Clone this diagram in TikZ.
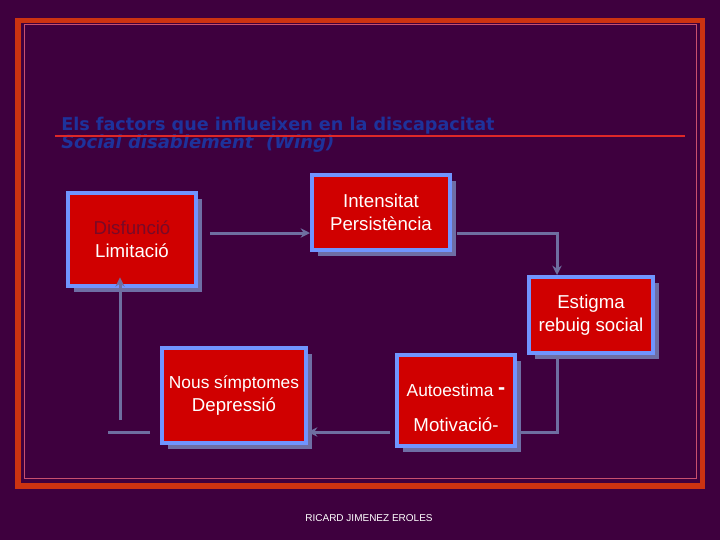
\documentclass[tikz,border=0pt]{standalone}
\usepackage{fontspec}
\setmainfont{Liberation Sans}
\newfontfamily\titlefont{DejaVu Sans}
\usetikzlibrary{arrows.meta,shadows}
\definecolor{bgc}{RGB}{62,0,62}
\definecolor{framec}{RGB}{204,51,17}
\definecolor{thinc}{RGB}{200,80,110}
\definecolor{titlec}{RGB}{30,50,155}
\definecolor{rulec}{RGB}{222,40,40}
\definecolor{boxred}{RGB}{208,0,0}
\definecolor{boxblue}{RGB}{112,148,255}
\definecolor{shadowc}{RGB}{110,110,165}
\definecolor{connc}{RGB}{110,110,160}
\definecolor{darktxt}{RGB}{120,10,40}
\begin{document}
\begin{tikzpicture}[x=0.75pt,y=-0.75pt,
  box/.style={fill=boxred, draw=boxblue, line width=3pt, inner sep=0pt,
    align=center, text=white, font=\fontsize{14}{17.5}\selectfont,
    drop shadow={shadow xshift=4.5pt, shadow yshift=-4.5pt, fill=shadowc, opacity=1}},
  conn/.style={draw=connc, line width=2.25pt},
  arr/.style={-{Stealth[length=7pt,width=7pt]}}]
\fill[bgc] (0,0) rectangle (720,540);
\useasboundingbox (0,0) rectangle (720,540);
% frame
\draw[framec, line width=4.1pt] (18,20.5) rectangle (702.5,486);
\draw[thinc, line width=0.7pt] (24,24.5) rectangle (696,478);
% title
\node[anchor=base west, inner sep=0pt, text=titlec, font=\titlefont\bfseries\fontsize{13.2}{16}\selectfont] (t1) at (61,130) {Els factors que influeixen en la discapacitat};
\node[anchor=base west, inner sep=0pt, text=titlec, font=\titlefont\bfseries\itshape\fontsize{13.5}{16}\selectfont] (t2) at (61,148) {Social disablement\ \ (Wing)};
\draw[rulec, line width=1.5pt] (55,136) -- (685,136);
% boxes
\node[box, minimum width=96pt, minimum height=69.75pt] (b1) at (132,239.5) {{\color{darktxt}Disfunció}\\Limitació};
\node[box, minimum width=103.5pt, minimum height=56.25pt] (b2) at (381,212.5) {Intensitat\\Persistència};
\node[box, minimum width=93pt, minimum height=57pt] (b3) at (591,315) {Estigma\\rebuig social};
\node[box, minimum width=108pt, minimum height=71.25pt] (b4) at (234,395.5) {{\fontsize{13}{14}\selectfont Nous símptomes}\\Depressió};
\node[box, minimum width=88.5pt, minimum height=68.25pt] (b5) at (456,400.5) {\rule{0pt}{20pt}{\fontsize{13}{14}\selectfont Autoestima \raisebox{1pt}{\fontsize{16}{16}\selectfont\bfseries -}}\\[9pt]Motivació-};
% connector points
\coordinate (k1) at (557,233);
\coordinate (k2) at (557,432);
\coordinate (k3) at (120,420);
\coordinate (k3e) at (108,432);
% connectors
\draw[conn, arr, shorten <=9pt] (b1.east |- k1) -- (b2.west |- k1);
\draw[conn, arr, shorten <=4pt] (b2.east |- k1) -- (k1) -- (k1 |- b3.north);
\draw[conn] (k2 |- b3.south) -- (k2) -- (b5.east |- k2);
\draw[conn, arr, shorten <=4pt] (b5.west |- k2) -- (b4.east |- k2);
\draw[conn, shorten <=7.5pt] (b4.west |- k2) -- (k3e);
\draw[conn, arr] (k3) -- ([yshift=8pt]b1.south -| k3);
% footer
\node[text=white, font=\fontsize{7.5}{9}\selectfont] (ft) at (369,518) {RICARD JIMENEZ EROLES};
\end{tikzpicture}
\end{document}
